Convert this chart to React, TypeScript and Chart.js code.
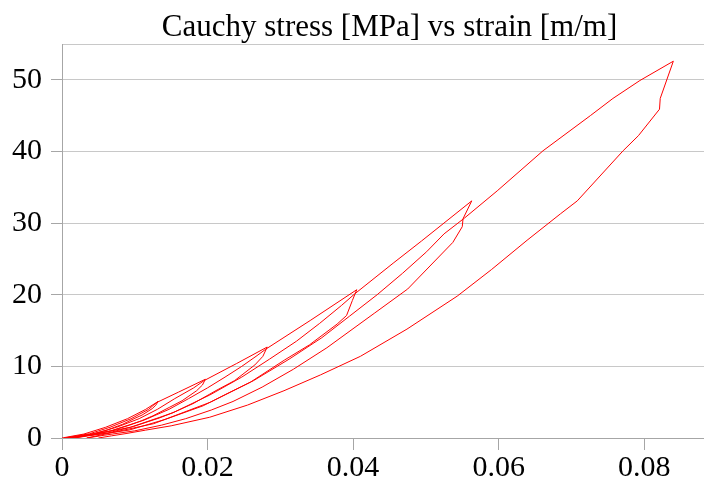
import React, { useEffect, useRef } from 'react';
import { Chart, registerables } from 'chart.js';

Chart.register(...registerables);

// Cycle 1
const load1Strain = [0, 0.003, 0.006, 0.009, 0.0115, 0.0132];
const load1Stress = [0, 0.55, 1.5, 2.7, 4.0, 5.1];
const unload1Strain = [0.0132, 0.0129, 0.0124, 0.011, 0.0099, 0.0083, 0.0072, 0.0062, 0.0045, 0.0028, 0.0009, 0.0003];
const unload1Stress = [5.1, 4.6, 4.1, 3.2, 2.7, 1.9, 1.5, 1.1, 0.64, 0.28, 0.08, 0];
// Cycle 2
const load2Strain = [0.0003, 0.0038, 0.0066, 0.0095, 0.0119, 0.013, 0.016, 0.0197];
const load2Stress = [0, 0.6, 1.5, 2.7, 4.0, 4.95, 6.4, 8.2];
const unload2Strain = [0.0197, 0.0193, 0.0185, 0.0165, 0.0148, 0.0125, 0.0109, 0.0093, 0.0068, 0.0043, 0.0015, 0.0006];
const unload2Stress = [8.2, 7.4, 6.6, 5.2, 4.3, 3.1, 2.4, 1.8, 1.0, 0.45, 0.12, 0];
// Cycle 3
const load3Strain = [0.0006, 0.0044, 0.0075, 0.0106, 0.0131, 0.0155, 0.0181, 0.0195, 0.024, 0.0282];
const load3Stress = [0, 0.6, 1.5, 2.7, 4.0, 5.5, 7.0, 8.0, 10.4, 12.7];
const unload3Strain = [0.0282, 0.0276, 0.0265, 0.0237, 0.0213, 0.018, 0.0156, 0.0134, 0.0098, 0.0063, 0.0023, 0.001];
const unload3Stress = [12.7, 11.4, 10.2, 8.0, 6.7, 4.8, 3.7, 2.8, 1.6, 0.7, 0.2, 0];
// Cycle 4
const load4Strain = [0.001, 0.0067, 0.0113, 0.0147, 0.0174, 0.02, 0.0224, 0.0247, 0.0268, 0.028, 0.0341, 0.0405];
const load4Stress = [0, 1.0, 2.5, 4.0, 5.5, 7.0, 8.5, 10.0, 11.5, 12.4, 16.4, 20.7];
const unload4Strain = [0.0405, 0.0399, 0.0391, 0.0378, 0.034, 0.0306, 0.0259, 0.0225, 0.0194, 0.0142, 0.0092, 0.0036, 0.0017];
const unload4Stress = [20.7, 19.2, 17.1, 15.9, 13.0, 10.9, 7.8, 6.1, 4.5, 2.6, 1.1, 0.3, 0];
// Cycle 5
const load5Strain = [0.0017, 0.0094, 0.0152, 0.0203, 0.0247, 0.0285, 0.0322, 0.0354, 0.0384, 0.0402, 0.0455, 0.0494, 0.0563];
const load5Stress = [0, 1.5, 3.5, 6.0, 8.5, 11.0, 13.5, 16.0, 18.5, 20.1, 24.4, 27.5, 33.1];
const unload5Strain = [0.0563, 0.0551, 0.055, 0.0537, 0.0475, 0.0429, 0.0364, 0.0318, 0.0275, 0.0235, 0.0205, 0.017, 0.0137, 0.01, 0.0059, 0.0034];
const unload5Stress = [33.1, 30.6, 29.5, 27.3, 20.8, 17.4, 12.6, 9.6, 7.1, 5.1, 3.9, 2.7, 1.8, 1.0, 0.4, 0];
// Cycle 6
const load6Strain = [0.0034, 0.0126, 0.0204, 0.0263, 0.0312, 0.0357, 0.0395, 0.0433, 0.0468, 0.0501, 0.0525, 0.0553, 0.0598, 0.0661, 0.0726, 0.0757, 0.0794, 0.084];
const load6Stress = [0, 2, 5, 8, 11, 14, 17, 20, 23, 26, 28.5, 30.7, 34.5, 40.1, 45.0, 47.4, 49.9, 52.6];
const unload6Strain = [0.084, 0.0822, 0.0821, 0.0792, 0.0771, 0.0708, 0.0685, 0.0639, 0.059, 0.0543, 0.0474, 0.041, 0.0355, 0.0305, 0.0255, 0.0203, 0.015, 0.0115, 0.0088, 0.0068, 0.005];
const unload6Stress = [52.6, 47.4, 45.9, 42.2, 40.1, 33.1, 31.3, 27.6, 23.5, 19.8, 15.2, 11.4, 8.8, 6.6, 4.6, 2.9, 1.7, 1.1, 0.62, 0.3, 0];

const xTicks = [0, 0.02, 0.04, 0.06, 0.08];
const yTicks = [0, 10, 20, 30, 40, 50];
const xMax = 0.09;
const yMax = 55;
const chartTitle = 'Cauchy stress [MPa] vs strain [m/m]';

export default function App() {
  const ref = useRef<HTMLCanvasElement>(null);

  useEffect(() => {
    const branches: [number[], number[]][] = [
      [load1Strain, load1Stress], [unload1Strain, unload1Stress],
      [load2Strain, load2Stress], [unload2Strain, unload2Stress],
      [load3Strain, load3Stress], [unload3Strain, unload3Stress],
      [load4Strain, load4Stress], [unload4Strain, unload4Stress],
      [load5Strain, load5Stress], [unload5Strain, unload5Stress],
      [load6Strain, load6Stress], [unload6Strain, unload6Stress],
    ];
    const pts: { x: number; y: number }[] = [];
    branches.forEach(([xs, ys]) => xs.forEach((x, i) => pts.push({ x, y: ys[i] })));
    const family = '"Liberation Serif", "Times New Roman", serif';
    const axisColor = '#a6a6a6';
    const gridColor = '#c8c8c8';

    const chart = new Chart(ref.current as HTMLCanvasElement, {
      type: 'scatter',
      data: {
        datasets: [
          {
            data: pts,
            showLine: true,
            borderColor: '#ff0000',
            backgroundColor: '#ff0000',
            borderWidth: 1,
            pointRadius: 0,
            pointHoverRadius: 0,
            tension: 0,
            fill: false,
          },
        ],
      },
      options: {
        responsive: false,
        animation: false,
        layout: { padding: { left: 3, right: 0, top: 0, bottom: 5 } },
        plugins: {
          legend: { display: false },
          tooltip: { enabled: false },
          title: {
            display: true,
            text: chartTitle,
            fullSize: false,
            color: '#000',
            font: { family, size: 31, weight: 'normal', lineHeight: 1 },
            padding: { top: 12, bottom: 1 },
          },
        },
        scales: {
          x: {
            type: 'linear',
            min: 0,
            max: xMax,
            afterBuildTicks: (s: any) => {
              s.ticks = xTicks.map((v) => ({ value: v }));
            },
            ticks: {
              color: '#000',
              font: { family, size: 30 },
              padding: 0,
              maxRotation: 0,
              autoSkip: false,
              callback: (v: any) => String(v),
            },
            grid: { drawOnChartArea: false, drawTicks: true, tickLength: 12, color: axisColor },
            border: { color: axisColor },
          },
          y: {
            type: 'linear',
            min: 0,
            max: yMax,
            afterBuildTicks: (s: any) => {
              s.ticks = [...yTicks, yMax].map((v) => ({ value: v }));
            },
            ticks: {
              color: '#000',
              font: { family, size: 30 },
              padding: 9,
              autoSkip: false,
              callback: (v: any) => (v === yMax ? '' : String(v)),
            },
            grid: {
              color: gridColor,
              tickLength: 11,
              tickColor: (ctx: any) => (ctx.tick && ctx.tick.value === yMax ? 'rgba(0,0,0,0)' : axisColor),
            },
            border: { color: axisColor },
          },
        },
      },
    });
    return () => chart.destroy();
  }, []);

  return (
    <div style={{ position: 'fixed', left: 0, top: 0, width: 704, height: 491, overflow: 'hidden', background: '#fff' }}>
      <canvas ref={ref} width={717} height={491} style={{ display: 'block' }} />
    </div>
  );
}
